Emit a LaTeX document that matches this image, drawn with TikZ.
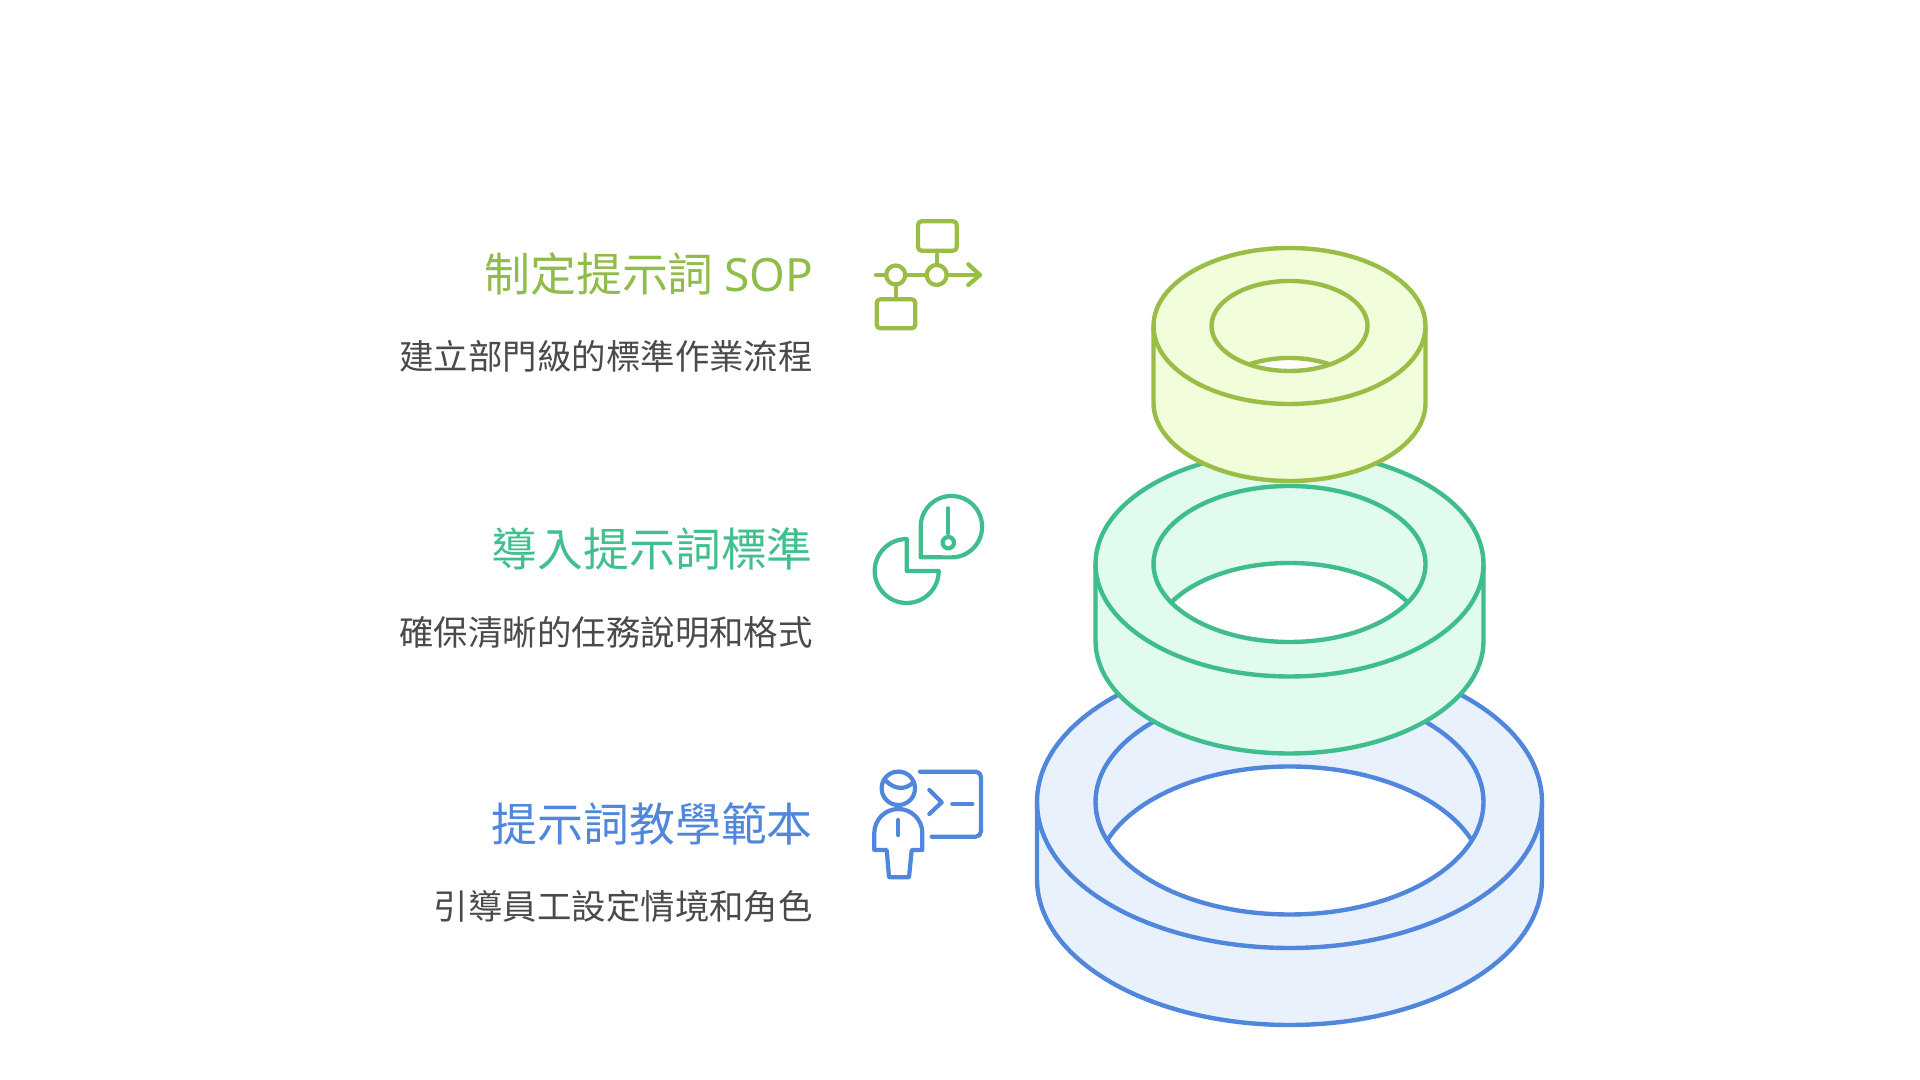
\documentclass[tikz,border=0pt]{standalone}
\usepackage{fontspec}
\setmainfont{Noto Sans CJK TC}
\newfontfamily\latinfont{Noto Sans}
\usepackage{xcolor}
\usepackage{tikz}
\usetikzlibrary{positioning,calc}

\definecolor{limeline}{HTML}{9ABD45}
\definecolor{limefill}{HTML}{F1FDDB}
\definecolor{limetext}{HTML}{90BC4A}
\definecolor{mintline}{HTML}{3FBD8D}
\definecolor{mintfill}{HTML}{E1FBEE}
\definecolor{minttext}{HTML}{42BF8F}
\definecolor{blueline}{HTML}{5086DB}
\definecolor{bluefill}{HTML}{E9F1FD}
\definecolor{bluetext}{HTML}{5086DB}
\definecolor{desctext}{HTML}{4A4A4A}

\tikzset{
    titlelabel/.style={anchor=east, inner sep=0pt, font=\fontsize{13.05}{15}\selectfont},
    desclabel/.style={anchor=east, inner sep=0pt, text=desctext, font=\fontsize{9.8}{12}\selectfont},
    ringline/.style={line width=1.25pt, line join=round},
    iconline/.style={line width=1.2pt, line cap=round, line join=round}
}

% ring: y, outer rx, outer ry, inner rx, inner ry, line colour, fill colour
\newcommand{\ringlayer}[7]{
    \draw[ringline, draw=#6, fill=#7] (12.895-#2,#1) -- ++(0,-0.77)
        arc[start angle=180, end angle=360, x radius=#2, y radius=#3] -- ++(0,0.77)
        arc[start angle=0, end angle=180, x radius=#2, y radius=#3] -- cycle;
    \draw[ringline, draw=#6] (12.895-#2,#1) arc[start angle=180, end angle=360, x radius=#2, y radius=#3];
    \begin{scope}
        \clip (12.895,#1) ellipse [x radius=#4, y radius=#5];
        \draw[ringline, draw=#6, fill=white] (12.895,#1-0.77) ellipse [x radius=#4, y radius=#5];
    \end{scope}
    \draw[ringline, draw=#6] (12.895,#1) ellipse [x radius=#4, y radius=#5];
}

\begin{document}
\begin{tikzpicture}
    \useasboundingbox (0,0) rectangle (19.2,10.8);

    % Rings
    \ringlayer{2.78}{2.525}{1.46}{1.94}{1.125}{blueline}{bluefill}
    \ringlayer{5.16}{1.94}{1.125}{1.36}{0.78}{mintline}{mintfill}
    \ringlayer{7.54}{1.36}{0.78}{0.78}{0.45}{limeline}{limefill}

    % Labels
    \node[titlelabel, text=limetext] (sopTitle) at (8.135,8.06) {制定提示詞 {\latinfont SOP}};
    \node[desclabel] (sopDesc) at (8.135,7.24) {建立部門級的標準作業流程};
    \node[titlelabel, text=minttext] (stdTitle) at (8.135,5.31) {導入提示詞標準};
    \node[desclabel] (stdDesc) at (8.135,4.48) {確保清晰的任務說明和格式};
    \node[titlelabel, text=bluetext] (tplTitle) at (8.135,2.56) {提示詞教學範本};
    \node[desclabel] (tplDesc) at (8.135,1.74) {引導員工設定情境和角色};

    % Flow icon
    \begin{scope}[iconline, draw=limeline]
        \draw[rounded corners=1pt] (9.18,8.587) rectangle (9.567,8.293);
        \draw (9.367,8.293) -- (9.367,8.15);
        \draw (9.367,8.05) circle (0.1);
        \draw (8.957,8.05) circle (0.095);
        \draw (8.76,8.05) -- (8.862,8.05);
        \draw (9.052,8.05) -- (9.267,8.05);
        \draw (9.467,8.05) -- (9.80,8.05);
        \draw (9.683,8.157) -- (9.80,8.05) -- (9.683,7.95);
        \draw (8.957,7.955) -- (8.957,7.807);
        \draw[rounded corners=1pt] (8.767,7.807) rectangle (9.153,7.517);
    \end{scope}

    % Alert and pie icon
    \begin{scope}[iconline, draw=mintline]
        \draw (9.207,5.227) -- (9.207,5.533) arc[start angle=180, end angle=-90, radius=0.307] -- cycle;
        \draw (9.483,5.717) -- (9.483,5.467);
        \draw (9.483,5.373) circle (0.057);
        \draw (9.067,5.09) -- (9.067,5.41) arc[start angle=90, end angle=360, radius=0.32] -- cycle;
    \end{scope}

    % Teacher icon
    \begin{scope}[iconline, draw=blueline]
        \draw (8.983,2.917) circle (0.167);
        \draw (8.848,3.0) .. controls (8.95,2.9) and (9.05,2.9) .. (9.125,2.97);
        \draw (8.743,2.30) -- (8.743,2.47) arc[start angle=180, end angle=0, radius=0.24] -- (9.223,2.30)
            -- (9.117,2.30) -- (9.09,2.027) -- (8.89,2.027) -- (8.867,2.30) -- cycle;
        \draw (8.983,2.60) -- (8.983,2.45);
        \draw[rounded corners=1.5pt] (9.20,3.083) -- (9.81,3.083) -- (9.81,2.433) -- (9.317,2.433);
        \draw (9.293,2.90) -- (9.417,2.777) -- (9.293,2.66);
        \draw (9.523,2.76) -- (9.723,2.76);
    \end{scope}
\end{tikzpicture}
\end{document}
